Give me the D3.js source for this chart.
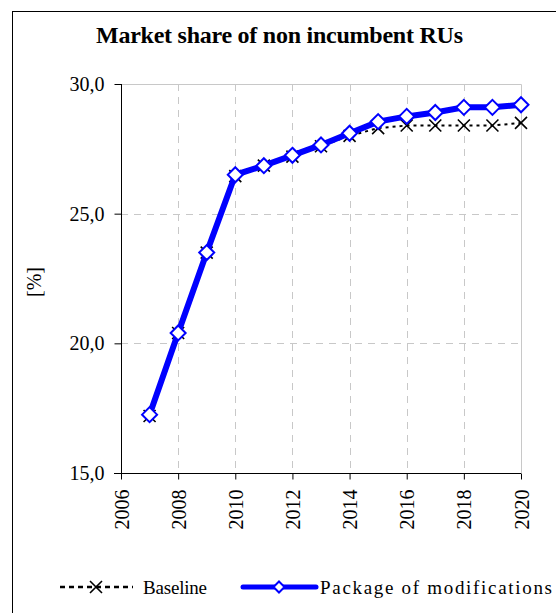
<!DOCTYPE html>
<html lang="en">
    <head>
        <meta charset="utf-8">
        <title>Market share of non incumbent RUs</title>
        <script type="text/javascript" src="https://cdn.jsdelivr.net/npm/d3@7"></script>
        <style>
            body { margin: 0; background: #fff; }
        </style>
    </head>
    <body>
        <script type="text/javascript">
            // data
            var years = [2007, 2008, 2009, 2010, 2011, 2012, 2013, 2014, 2015, 2016, 2017, 2018, 2019, 2020];
            var baseline = [17.2, 20.4, 23.5, 26.45, 26.85, 27.2, 27.6, 28.0, 28.3, 28.4, 28.4, 28.4, 28.4, 28.5];
            var pkg = [17.25, 20.4, 23.5, 26.5, 26.85, 27.25, 27.65, 28.1, 28.55, 28.75, 28.9, 29.1, 29.1, 29.2];
            var xTicks = [2006, 2008, 2010, 2012, 2014, 2016, 2018, 2020];
            var yTicks = [15, 20, 25, 30];

            var w = 556;
            var h = 613;
            var serif = '"Liberation Serif", "Times New Roman", Times, serif';

            var svg = d3.select('body')
                        .append('svg')
                        .attr('width', w)
                        .attr('height', h);

            // outer chart frame
            svg.append('rect')
               .attr('x', 12.5).attr('y', 11.5)
               .attr('width', 560).attr('height', 620)
               .attr('fill', 'none')
               .attr('stroke', '#000')
               .attr('stroke-width', 1);

            svg.append('text')
               .attr('x', 96).attr('y', 43)
               .attr('font-family', serif)
               .attr('font-size', '24px')
               .attr('font-weight', 'bold')
               .attr('textLength', 367)
               .attr('lengthAdjust', 'spacing')
               .text('Market share of non incumbent RUs');

            var x = d3.scaleLinear().domain([2006, 2020]).range([121, 521]);
            var y = d3.scaleLinear().domain([15, 30]).range([473, 84]);

            // grid
            var grid = svg.append('g');
            grid.selectAll('line.v')
                .data(xTicks.slice(1, -1))
                .enter().append('line')
                .attr('x1', function(d){ return Math.round(x(d)) + 0.5; })
                .attr('x2', function(d){ return Math.round(x(d)) + 0.5; })
                .attr('y1', y(30)).attr('y2', y(15))
                .attr('stroke', '#c8c8c8')
                .attr('stroke-dasharray', '7,6');
            grid.selectAll('line.h')
                .data([20, 25])
                .enter().append('line')
                .attr('x1', x(2006)).attr('x2', x(2020))
                .attr('y1', function(d){ return Math.round(y(d)) + 0.5; })
                .attr('y2', function(d){ return Math.round(y(d)) + 0.5; })
                .attr('stroke', '#c8c8c8')
                .attr('stroke-dasharray', '7,6');
            // plot area border top / right
            grid.append('path')
                .attr('d', 'M' + x(2006) + ',' + (y(30) + 0.5) + 'H' + (x(2020) + 0.5) + 'V' + y(15))
                .attr('fill', 'none')
                .attr('stroke', '#c8c8c8');

            // axes
            var yAxis = d3.axisLeft(y)
                          .tickValues(yTicks)
                          .tickSize(7)
                          .tickPadding(10)
                          .tickFormat(function(d){ return d3.format('.1f')(d).replace('.', ','); });
            var gy = svg.append('g')
                        .attr('transform', 'translate(' + (x(2006) + 0.5) + ',0)')
                        .call(yAxis)
                        .attr('font-family', serif)
                        .attr('font-size', 20);
            gy.select('.domain').attr('d', 'M0,' + y(30) + 'V' + y(15));

            var xAxis = d3.axisBottom(x)
                          .tickValues(xTicks)
                          .tickSize(6)
                          .tickFormat(d3.format('d'));
            var gx = svg.append('g')
                        .attr('transform', 'translate(0,' + (y(15) + 0.5) + ')')
                        .call(xAxis)
                        .attr('font-family', serif)
                        .attr('font-size', 20);
            gx.select('.domain').attr('d', 'M' + (x(2006) - 7) + ',0H' + x(2020));
            gx.selectAll('text')
              .attr('transform', 'rotate(-90)')
              .attr('text-anchor', 'end')
              .attr('dy', '0.35em')
              .attr('x', -16)
              .attr('y', 0);

            svg.append('text')
               .attr('transform', 'translate(41,282) rotate(-90)')
               .attr('text-anchor', 'middle')
               .attr('font-family', serif)
               .attr('font-size', '20px')
               .text('[%]');

            // series
            var line = d3.line()
                         .x(function(d){ return x(d[0]); })
                         .y(function(d){ return y(d[1]); });
            var basePts = years.map(function(d, i){ return [d, baseline[i]]; });
            var pkgPts = years.map(function(d, i){ return [d, pkg[i]]; });

            svg.append('path')
               .attr('d', line(basePts))
               .attr('fill', 'none')
               .attr('stroke', '#000')
               .attr('stroke-width', 2)
               .attr('stroke-dasharray', '3,4');

            var cross = function(cx, cy, s){
                return 'M' + (cx - s) + ',' + (cy - s) + 'L' + (cx + s) + ',' + (cy + s) +
                       'M' + (cx - s) + ',' + (cy + s) + 'L' + (cx + s) + ',' + (cy - s);
            };
            svg.selectAll('path.bx')
               .data(basePts)
               .enter().append('path')
               .attr('d', function(d){ return cross(x(d[0]), y(d[1]), 6); })
               .attr('stroke', '#000')
               .attr('stroke-width', 1.6);

            svg.append('path')
               .attr('d', line(pkgPts))
               .attr('fill', 'none')
               .attr('stroke', '#0000ff')
               .attr('stroke-width', 6);

            var diamond = function(cx, cy, s){
                return 'M' + cx + ',' + (cy - s) + 'L' + (cx + s) + ',' + cy +
                       'L' + cx + ',' + (cy + s) + 'L' + (cx - s) + ',' + cy + 'Z';
            };
            svg.selectAll('path.pd')
               .data(pkgPts)
               .enter().append('path')
               .attr('d', function(d){ return diamond(x(d[0]), y(d[1]), 7.5); })
               .attr('fill', '#fff')
               .attr('stroke', '#0000ff')
               .attr('stroke-width', 2);

            // legend
            var ly = 587;
            svg.append('line')
               .attr('x1', 60).attr('x2', 133).attr('y1', ly).attr('y2', ly)
               .attr('stroke', '#000').attr('stroke-width', 2.5)
               .attr('stroke-dasharray', '5,4');
            svg.append('path')
               .attr('d', cross(96, ly, 6))
               .attr('stroke', '#000').attr('stroke-width', 1.6);
            svg.append('text')
               .attr('x', 143).attr('y', ly + 7)
               .attr('font-family', serif)
               .attr('font-size', '19px')
               .attr('textLength', 64)
               .attr('lengthAdjust', 'spacing')
               .text('Baseline');

            svg.append('line')
               .attr('x1', 243).attr('x2', 316).attr('y1', ly).attr('y2', ly)
               .attr('stroke', '#0000ff').attr('stroke-width', 5)
               .attr('stroke-linecap', 'round');
            svg.append('path')
               .attr('d', diamond(279, ly, 5.5))
               .attr('fill', '#fff')
               .attr('stroke', '#0000ff').attr('stroke-width', 2);
            svg.append('text')
               .attr('x', 320).attr('y', ly + 7)
               .attr('font-family', serif)
               .attr('font-size', '19px')
               .attr('textLength', 232)
               .attr('lengthAdjust', 'spacing')
               .text('Package of modifications');
        </script>
    </body>
</html>
